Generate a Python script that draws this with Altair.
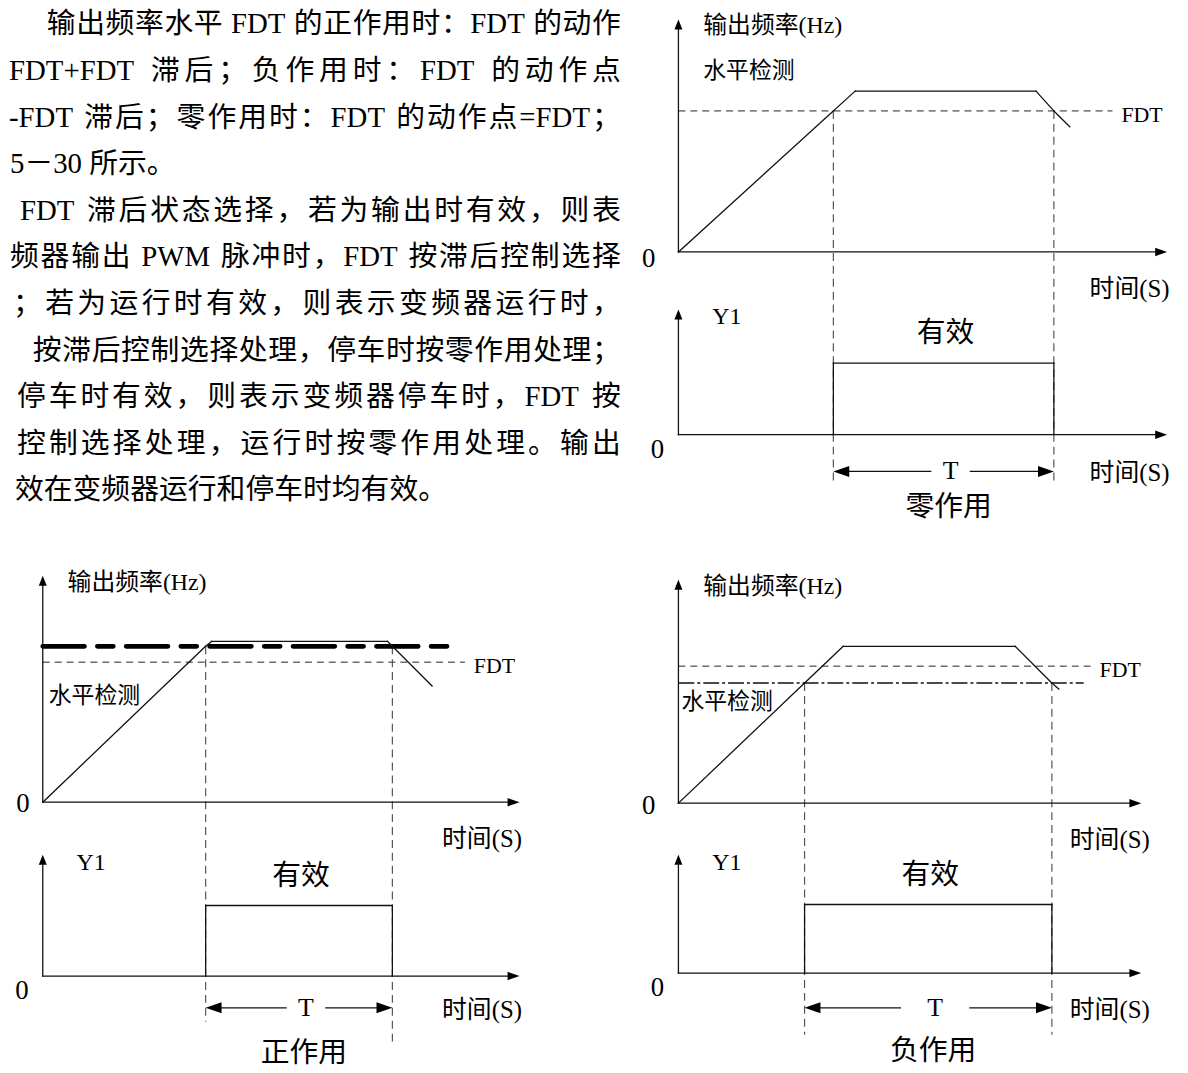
import altair as alt
import pandas as pd

FONT = "Liberation Serif, Noto Sans CJK SC"

# ---------------- page text (visible right part of a cropped page) ----------------
para_lines = [
    "输出频率水平 FDT 的正作用时：FDT 的动作",
    "FDT+FDT 滞后；负作用时：FDT 的动作点",
    "-FDT 滞后；零作用时：FDT 的动作点=FDT；",
    "5－30 所示。",
    "FDT 滞后状态选择，若为输出时有效，则表",
    "频器输出 PWM 脉冲时，FDT 按滞后控制选择",
    "；若为运行时有效，则表示变频器运行时，",
    "按滞后控制选择处理，停车时按零作用处理；",
    "停车时有效，则表示变频器停车时，FDT 按",
    "控制选择处理，运行时按零作用处理。输出",
    "效在变频器运行和停车时均有效。",
]
para_left = [47, 9, 9, 10, 20, 10, 13, 33, 17, 17, 15]
para_justified = [True, True, True, False, True, True, True, True, True, True, False]
PARA_RIGHT, PARA_TOP, PARA_STEP, PARA_FS = 625, 21, 46.9, 29

# ---------------- diagram values (time, output frequency) ----------------
zero_time = [0, 156, 178, 360, 378, 394]
zero_freq = [0, 142, 162, 162, 142, 126]
pos_time = [0, 164, 170, 347, 352, 392]
pos_freq = [0, 157, 162, 162, 157, 117]
neg_time = [0, 127, 166, 339, 376, 383]
neg_freq = [0, 121, 158, 158, 121, 115]

fdt_levels = [142, 141, 138]
detect_levels = [142, 157, 121]
y1_on_times = [156, 164, 127]
y1_off_times = [378, 352, 376]
y1_high = [72, 71, 69]
captions = ["零作用", "正作用", "负作用"]
curves = [(zero_time, zero_freq), (pos_time, pos_freq), (neg_time, neg_freq)]

# ---------------- layout of the three diagrams ----------------
layout = [
    dict(ox=683, oy=250, oy2=434, trow=471, xlen=492, flen=234, ylen=126,
         fdt_end=437, det_end=None, det="none", vend=(482, 482),
         lvl=(25, -182), zero_up=(-30, 7), tgap=20, cap_dy=36, time_dx=78),
    dict(ox=43, oy=804, oy2=979, trow=1011, xlen=480, flen=228, ylen=122,
         fdt_end=425, det_end=420, det="bold", vend=(1025, 1050),
         lvl=(6, -107), zero_up=(-20, 2), tgap=20, cap_dy=46, time_dx=78),
    dict(ox=683, oy=805, oy2=976, trow=1011, xlen=466, flen=225, ylen=119,
         fdt_end=415, det_end=408, det="dashdot", vend=(1038, 1038),
         lvl=(3, -102), zero_up=(-30, 3), tgap=35, cap_dy=44, time_dx=72),
]

solid, fdt_dash, vert_dash, bold_dash, dash_dot = [], [], [], [], []
arrows, text_left, text_center = [], [], []

UP = "M-0.8,1L0,-1L0.8,1Z"
RIGHT = "M-1,-0.7L1,0L-1,0.7Z"
LEFT = "M1,-0.7L-1,0L1,0.7Z"


def seg(lst, x, y, x2, y2):
    lst.append(dict(x=x, y=y, x2=x2, y2=y2))


for i, L in enumerate(layout):
    ox, oy, oy2, trow = L["ox"], L["oy"], L["oy2"], L["trow"]
    tt, ff = curves[i]
    # axes
    seg(solid, ox, oy, ox, oy - L["flen"] + 6)
    seg(solid, ox, oy, ox + L["xlen"] - 6, oy)
    seg(solid, ox, oy2, ox, oy2 - L["ylen"] + 6)
    seg(solid, ox, oy2, ox + L["xlen"] - 6, oy2)
    arrows += [
        dict(x=ox, y=oy - L["flen"] + 5, shape=UP, size=100),
        dict(x=ox, y=oy2 - L["ylen"] + 5, shape=UP, size=100),
        dict(x=ox + L["xlen"] - 6, y=oy, shape=RIGHT, size=144),
        dict(x=ox + L["xlen"] - 6, y=oy2, shape=RIGHT, size=144),
    ]
    # output-frequency curve
    for k in range(len(tt) - 1):
        seg(solid, ox + tt[k], oy - ff[k], ox + tt[k + 1], oy - ff[k + 1])
    # FDT level
    seg(fdt_dash, ox, oy - fdt_levels[i], ox + L["fdt_end"], oy - fdt_levels[i])
    if L["det"] == "bold":
        seg(bold_dash, ox, oy - detect_levels[i], ox + L["det_end"], oy - detect_levels[i])
    elif L["det"] == "dashdot":
        seg(dash_dot, ox, oy - detect_levels[i], ox + L["det_end"], oy - detect_levels[i])
    # switching instants
    t_on, t_off = ox + y1_on_times[i], ox + y1_off_times[i]
    seg(vert_dash, t_on, oy - detect_levels[i], t_on, L["vend"][0])
    seg(vert_dash, t_off, oy - detect_levels[i], t_off, L["vend"][1])
    # Y1 pulse
    top = oy2 - y1_high[i]
    seg(solid, t_on, oy2, t_on, top)
    seg(solid, t_on, top, t_off, top)
    seg(solid, t_off, top, t_off, oy2)
    # T dimension arrow
    mid = (t_on + t_off) / 2 + 7
    seg(solid, t_on + 8, trow, mid - L["tgap"], trow)
    seg(solid, mid + L["tgap"], trow, t_off - 8, trow)
    arrows += [
        dict(x=t_on + 8, y=trow, shape=LEFT, size=256),
        dict(x=t_off - 8, y=trow, shape=RIGHT, size=256),
    ]
    # labels
    tip = ox + L["xlen"]
    text_left += [
        dict(x=ox + 25, y=oy - L["flen"] + 7, text="输出频率(Hz)", size=24),
        dict(x=ox + L["lvl"][0], y=oy + L["lvl"][1], text="水平检测", size=23),
        dict(x=ox + L["fdt_end"] + 9, y=oy - fdt_levels[i] + 4, text="FDT", size=22),
        dict(x=tip - L["time_dx"], y=oy + 37, text="时间(S)", size=25),
        dict(x=tip - L["time_dx"], y=trow + 2, text="时间(S)", size=25),
        dict(x=ox + 34, y=oy2 - L["ylen"] + 8, text="Y1", size=24),
    ]
    text_center += [
        dict(x=ox + L["zero_up"][0], y=oy + L["zero_up"][1], text="0", size=27),
        dict(x=ox - 21, y=oy2 + 15, text="0", size=27),
        dict(x=mid - 5, y=top - 30, text="有效", size=29),
        dict(x=mid, y=trow, text="T", size=26),
        dict(x=mid - 2, y=trow + L["cap_dy"], text=captions[i], size=29),
    ]

# ---------------- justified paragraph ----------------
LAT_W = {"F": .556, "D": .722, "T": .611, "+": .564, "-": .333, "=": .564,
         "P": .556, "W": .944, "M": .889, "0": .5, "3": .5, "5": .5}


def units_of(line):
    out, word = [], ""
    for ch in line:
        if ord(ch) < 128 and ch != " ":
            word += ch
            continue
        if word:
            out.append((word, sum(LAT_W.get(c, .5) for c in word), True))
            word = ""
        out.append((ch, .25, False) if ch == " " else (ch, 1.0, True))
    if word:
        out.append((word, sum(LAT_W.get(c, .5) for c in word), True))
    return out


for j, line in enumerate(para_lines):
    units = units_of(line)
    natural = sum(w for _, w, _ in units) * PARA_FS
    extra = 0.0
    if para_justified[j] and len(units) > 1:
        extra = (PARA_RIGHT - para_left[j] - natural) / (len(units) - 1)
    xpos = para_left[j]
    yc = PARA_TOP + j * PARA_STEP
    for txt, w, draw in units:
        if draw:
            text_left.append(dict(x=xpos, y=yc, text=txt, size=PARA_FS))
        xpos += w * PARA_FS + extra

XS = alt.Scale(domain=[8, 1188], zero=False, nice=False)
YS = alt.Scale(domain=[1073, 8], zero=False, nice=False)


def seg_layer(rows, **mark):
    return alt.Chart(pd.DataFrame(rows)).mark_rule(**mark).encode(
        x=alt.X("x:Q", scale=XS, axis=None),
        y=alt.Y("y:Q", scale=YS, axis=None),
        x2="x2:Q", y2="y2:Q")


def text_layer(rows, align):
    return alt.Chart(pd.DataFrame(rows)).mark_text(
        align=align, baseline="middle", font=FONT, color="#000").encode(
        x=alt.X("x:Q", scale=XS, axis=None),
        y=alt.Y("y:Q", scale=YS, axis=None),
        text="text:N",
        size=alt.Size("size:Q", scale=None))


layers = [
    seg_layer(fdt_dash, color="#222", strokeWidth=1, strokeDash=[7, 5]),
    seg_layer(vert_dash, color="#555", strokeWidth=1.2, strokeDash=[8, 5]),
    seg_layer(bold_dash, color="#000", strokeWidth=4.8, strokeDash=[42, 13, 16, 13], strokeCap="round"),
    seg_layer(dash_dot, color="#111", strokeWidth=1.4, strokeDash=[16, 3, 3, 3]),
    seg_layer(solid, color="#111", strokeWidth=1.3, strokeCap="square"),
    alt.Chart(pd.DataFrame(arrows)).mark_point(filled=True, opacity=1, color="#000", strokeWidth=0).encode(
        x=alt.X("x:Q", scale=XS, axis=None),
        y=alt.Y("y:Q", scale=YS, axis=None),
        shape=alt.Shape("shape:N", scale=None),
        size=alt.Size("size:Q", scale=None)),
    text_layer(text_left, "left"),
    text_layer(text_center, "center"),
]

chart = alt.layer(*layers).properties(
    width=1180, height=1065, padding=0,
    autosize=alt.AutoSizeParams(type="none"),
    background="white",
).configure_view(stroke=None)

chart.save("out.html", embed_options={"renderer": "svg", "actions": False})
